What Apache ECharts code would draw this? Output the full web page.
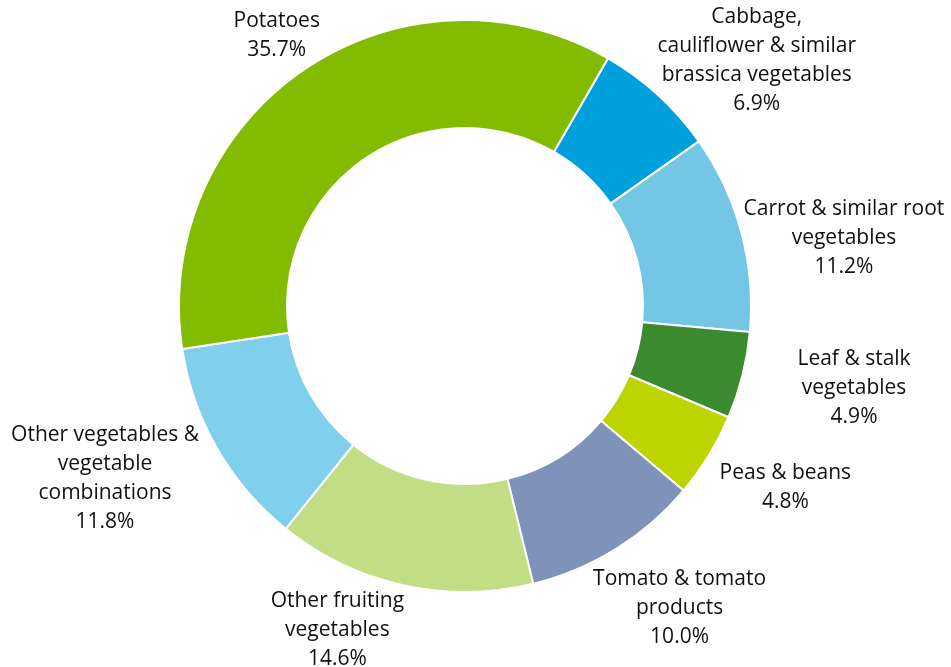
<!DOCTYPE html>
<html>
<head>
<meta charset="utf-8">
<style>
  html, body { margin: 0; padding: 0; background: #fff; }
  #chart { width: 951px; height: 667px; }
</style>
<script src="https://cdn.jsdelivr.net/npm/echarts@6/dist/echarts.min.js"></script>
</head>
<body>
<div id="chart"></div>
<script>
// Vegetable consumption shares, clockwise from the brassica slice
const categories = [
  'Cabbage,\ncauliflower & similar\nbrassica vegetables',
  'Carrot & similar root\nvegetables',
  'Leaf & stalk\nvegetables',
  'Peas & beans',
  'Tomato & tomato\nproducts',
  'Other fruiting\nvegetables',
  'Other vegetables &\nvegetable\ncombinations',
  'Potatoes'
];
const shares = [6.9, 11.2, 4.9, 4.8, 10.0, 14.6, 11.8, 35.7];
const sliceColors = ['#00A0DD', '#74C6E5', '#3C8A2F', '#BDD401', '#7F93BA', '#C1DE84', '#80CFEC', '#82BB00'];

// Ring geometry
const CX = 465, CY = 306, R_IN = 178, R_OUT = 286;
const START_ANGLE = 60; // degrees, counter-clockwise from 3 o'clock
const LABEL_GAP = 10;
// Hand-tuned label nudges (px) for readability
const labelNudge = [[25, 16], [-4, 20], [47, 0], [12, 12], [13, 13], [-49, -7], [-22, -4], [3, -2]];

const total = shares.reduce((a, b) => a + b, 0);
const midAngles = [];
let acc = 0;
shares.forEach(v => {
  const mid = (acc + v / 2) / total * 2 * Math.PI; // clockwise from start
  midAngles.push(START_ANGLE * Math.PI / 180 - mid);
  acc += v;
});

const chart = echarts.init(document.getElementById('chart'), null, { renderer: 'canvas' });
chart.setOption({
  backgroundColor: '#fff',
  animation: false,
  series: [{
    type: 'pie',
    center: [CX, CY],
    radius: [R_IN, R_OUT],
    startAngle: START_ANGLE,
    clockwise: true,
    avoidLabelOverlap: false,
    data: categories.map((name, i) => ({
      name: name,
      value: shares[i],
      itemStyle: { color: sliceColors[i] }
    })),
    itemStyle: { borderColor: '#ffffff', borderWidth: 2 },
    label: {
      show: true,
      position: 'outside',
      fontFamily: '"Open Sans", sans-serif',
      fontSize: 21,
      lineHeight: 29,
      color: '#111',
      align: 'center',
      formatter: p => p.name + '\n' + p.value.toFixed(1) + '%'
    },
    labelLine: { show: false, length: 0, length2: 0 },
    emphasis: { disabled: true },
    labelLayout: function (params) {
      const i = params.dataIndex;
      const a = midAngles[i];
      const ux = Math.cos(a), uy = -Math.sin(a);
      const w = params.labelRect.width, h = params.labelRect.height;
      const x = CX + (R_OUT + LABEL_GAP) * ux + w / 2 * ux + labelNudge[i][0];
      const y = CY + (R_OUT + LABEL_GAP) * uy + h / 2 * uy + labelNudge[i][1];
      return { x: x, y: y, align: 'center', verticalAlign: 'middle' };
    }
  }]
});
</script>
</body>
</html>
